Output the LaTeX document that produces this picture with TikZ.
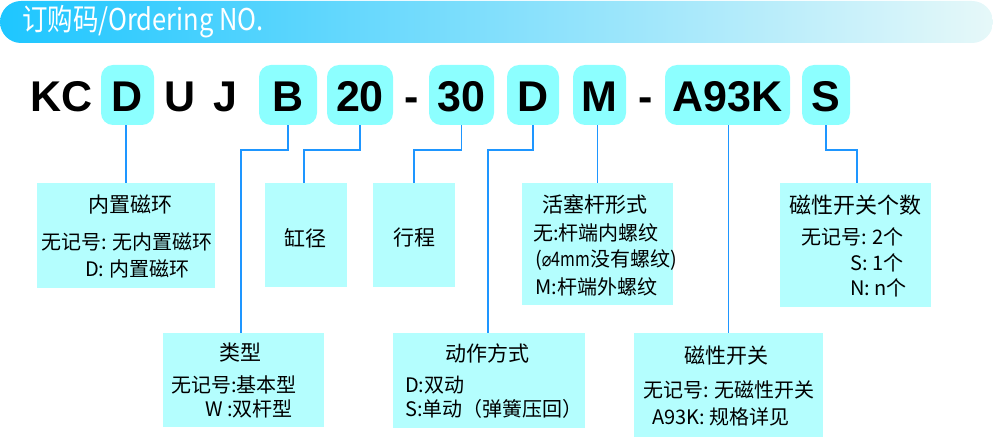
\documentclass[tikz,border=0pt]{standalone}
\usepackage{fontspec}
\setmainfont{Liberation Sans}
\newfontfamily\cjk{Noto Sans CJK SC}
\newfontfamily\hdrfont[FakeStretch=0.85]{Noto Sans CJK SC}
\newfontfamily\dejavu{DejaVu Sans}
\definecolor{connblue}{HTML}{1E96FF}
\definecolor{codefill}{HTML}{8CFFFF}
\definecolor{boxfill}{HTML}{B4FEFE}
\definecolor{hdrL}{HTML}{1EC6FF}
\definecolor{hdrM}{HTML}{A8EAFA}
\definecolor{hdrR}{HTML}{E6F8F9}
\begin{document}
\begin{tikzpicture}[x=1pt,y=-1pt,
 codetxt/.style={inner sep=0pt, text height=34pt, text depth=0pt, font=\fontsize{43}{43}\selectfont\bfseries},
 codebox/.style={codetxt, fill=codefill, rounded corners=12pt, minimum height=60pt},
 lowbox/.style={fill=boxfill, inner sep=0pt},
 ttl/.style={inner sep=0pt, font=\cjk\fontsize{21}{21}\selectfont},
 ln/.style={inner sep=0pt, anchor=west, font=\cjk\fontsize{20}{20}\selectfont},
 conn/.style={draw=connblue, line width=1.5pt}]
\useasboundingbox (0,0) rectangle (993,438);
% header banner
\shade[left color=hdrL, middle color=hdrM, right color=hdrR, rounded corners=21pt] (0,1) rectangle (993,43);
\node[anchor=west, text=white, inner sep=0pt, font=\hdrfont\fontsize{30}{30}\selectfont] (hdr) at (22,22) {订购码/Ordering NO.};
% code row
\node[codetxt] (cKC) at (61.5,95) {KC};
\node[codebox, minimum width=53pt] (cD) at (127.5,95) {D};
\node[codetxt] (cU) at (180,95) {U};
\node[codetxt] (cJ) at (225,95) {J};
\node[codebox, minimum width=58pt] (cB) at (288,95) {B};
\node[codebox, minimum width=66pt] (cTw) at (360,95) {20};
\node[codetxt] (cDash1) at (411.5,95) {-};
\node[codebox, minimum width=65pt] (cTh) at (461.5,95) {30};
\node[codebox, minimum width=52pt] (cD2) at (533,95) {D};
\node[codebox, minimum width=53pt] (cM) at (599.5,95) {M};
\node[codetxt] (cDash2) at (645.5,95) {-};
\node[codebox, minimum width=125pt] (cA) at (727.5,95) {A93K};
\node[codebox, minimum width=48pt] (cS) at (826,95) {S};
% lower boxes
\node[lowbox, minimum width=178pt, minimum height=105pt] (bMag) at (126,235.5) {};
\node[lowbox, minimum width=82pt, minimum height=104pt] (bBore) at (306,235) {};
\node[lowbox, minimum width=82pt, minimum height=104pt] (bStroke) at (414,235) {};
\node[lowbox, minimum width=151pt, minimum height=122pt] (bRod) at (597.5,244) {};
\node[lowbox, minimum width=151pt, minimum height=124pt] (bNum) at (855.5,245) {};
\node[lowbox, minimum width=161pt, minimum height=94pt] (bType) at (243.5,380) {};
\node[lowbox, minimum width=192pt, minimum height=95pt] (bAct) at (489,380.5) {};
\node[lowbox, minimum width=189pt, minimum height=104pt] (bSw) at (728.5,385) {};
% connectors
\coordinate (kB) at (241,150);
\coordinate (kTw) at (304,150);
\coordinate (kTh) at (414,150);
\coordinate (kD2) at (488,150);
\coordinate (kS) at (857,150);
\draw[conn] (bMag.north) -- (bMag.north |- cD.south);
\draw[conn] (cB.south) |- (kB) -- (kB |- bType.north);
\draw[conn] (cTw.south) |- (kTw) -- (kTw |- bBore.north);
\draw[conn] (cTh.south) |- (kTh) -- (kTh |- bStroke.north);
\draw[conn] (cD2.south) |- (kD2) -- (kD2 |- bAct.north);
\draw[conn] (bRod.north) -- (bRod.north |- cM.south);
\draw[conn] (bSw.north) -- (bSw.north |- cA.south);
\draw[conn] (cS.south) |- (kS) -- (kS |- bNum.north);
% texts: 内置磁环
\node[ttl] (tMag) at (130,205) {内置磁环};
\node[ln] (tMag1) at (41,242) {无记号: 无内置磁环};
\node[ln] (tMag2) at (85,269) {D: 内置磁环};
% 缸径 / 行程
\node[ttl] (tBore) at (305,238) {缸径};
\node[ttl] (tStroke) at (414,238) {行程};
% 活塞杆形式
\node[ttl] (tRod) at (595,205) {活塞杆形式};
\node[ln] (tRod1) at (533,233) {无:杆端内螺纹};
\node[ln] (tRod2) at (535,260) {(\scalebox{0.8}[1]{{\dejavu ⌀}4mm}没有螺纹)};
\node[ln] (tRod3) at (535,287) {M:杆端外螺纹};
% 磁性开关个数
\node[ttl, font=\cjk\fontsize{22}{22}\selectfont] (tNum) at (855,205) {磁性开关个数};
\node[ln] (tNum1) at (801,237) {无记号: 2个};
\node[ln] (tNum2) at (850,263) {S: 1个};
\node[ln] (tNum3) at (850,288) {N: n个};
% 类型
\node[ttl] (tType) at (240,353) {类型};
\node[ln] (tType1) at (171,385) {无记号:基本型};
\node[ln] (tType2) at (205,409) {W :双杆型};
% 动作方式
\node[ttl] (tAct) at (487,353) {动作方式};
\node[ln] (tAct1) at (405,385) {D:双动};
\node[ln] (tAct2) at (405,409) {S:单动（弹簧压回）};
% 磁性开关
\node[ttl] (tSw) at (726,356) {磁性开关};
\node[ln] (tSw1) at (643,390) {无记号: 无磁性开关};
\node[ln] (tSw2) at (652,417) {A93K: 规格详见};
\end{tikzpicture}
\end{document}
